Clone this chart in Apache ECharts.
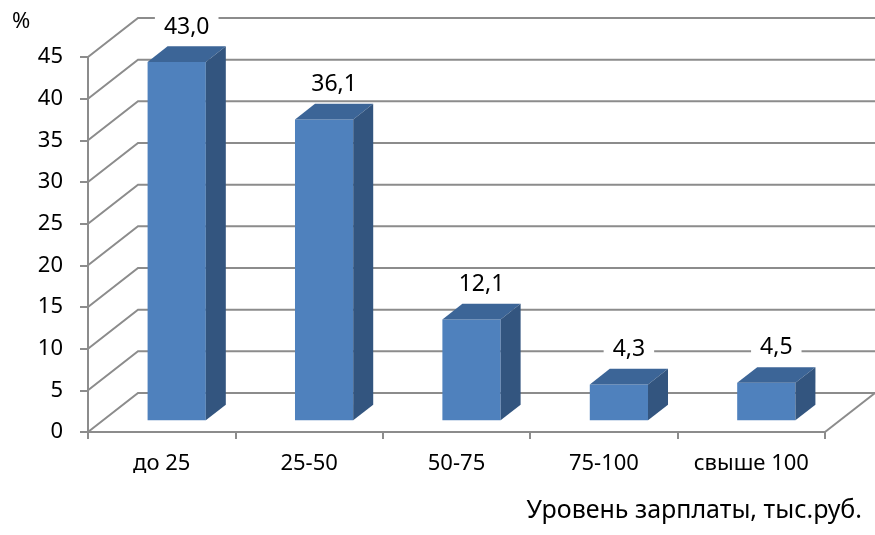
<!DOCTYPE html>
<html>
<head>
<meta charset="utf-8">
<script src="https://cdn.jsdelivr.net/npm/echarts@6/dist/echarts.min.js"></script>
<style>
  html, body { margin:0; padding:0; background:#fff; }
  #chart { width:875px; height:535px; }
</style>
</head>
<body>
<div id="chart"></div>
<script>
// data
var categories = ['до 25', '25-50', '50-75', '75-100', 'свыше 100'];
var shares = [43.0, 36.1, 12.1, 4.3, 4.5];
var yTicks = [0, 5, 10, 15, 20, 25, 30, 35, 40, 45];

var FONT = '"Noto Sans", sans-serif';
var DX = 50, DY = -39;       // depth of the 3d box (pixels)
var F0 = 0.3, F1 = 0.7;      // bar front / back depth fraction
var GRID_COLOR = '#8c8c8c';

var myChart = echarts.init(document.getElementById('chart'));

function fmt(v){ return v.toFixed(1).replace('.', ','); }

// walls: back gridlines + left side diagonals
function renderWall(params, api){
  var v = api.value(1);
  var cs = params.coordSys;
  var y = api.coord([0, v])[1];
  var L = cs.x, R = cs.x + cs.width;
  var kids = [{
    type: 'polyline',
    shape: {points: [[L, y], [L + DX, y + DY], [R + DX, y + DY]]},
    style: {stroke: GRID_COLOR, lineWidth: 2, fill: null}
  }];
  if(v == 0){
    kids.push({
      type: 'line',
      shape: {x1: R, y1: y, x2: R + DX, y2: y + DY},
      style: {stroke: GRID_COLOR, lineWidth: 2}
    });
  }
  return {type: 'group', children: kids};
}

function renderBar(params, api){
  var i = api.value(0), v = api.value(1);
  var base = api.coord([i, 0]);
  var top = api.coord([i, v]);
  var w = api.size([1, 0])[0] * 0.395;
  var x0 = base[0] + F0 * DX - w / 2, x1 = x0 + w;
  var yb = base[1] + F0 * DY, yt = top[1] + F0 * DY;
  var ddx = (F1 - F0) * DX, ddy = (F1 - F0) * DY;
  return {
    type: 'group',
    children: [
      {type: 'rect', shape: {x: x0, y: yt, width: w, height: yb - yt},
       style: {fill: '#4f81bd'}},
      {type: 'polygon', shape: {points: [[x0, yt], [x1, yt], [x1 + ddx, yt + ddy], [x0 + ddx, yt + ddy]]},
       style: {fill: '#3c6597'}},
      {type: 'polygon', shape: {points: [[x1, yt], [x1 + ddx, yt + ddy], [x1 + ddx, yb + ddy], [x1, yb]]},
       style: {fill: '#33557f'}},
      {type: 'text', z2: 10,
       style: {x: base[0] + 0.5 * DX, y: yt - 35, text: fmt(v), align: 'center', verticalAlign: 'middle',
               font: '23px ' + FONT, fill: '#000', backgroundColor: '#fff', padding: [0, 9]}}
    ]
  };
}

var option = {
  animation: false,
  grid: {left: 88, right: 50, top: 57, bottom: 103},
  xAxis: {
    type: 'category',
    data: categories,
    axisLine: {show: true, lineStyle: {color: GRID_COLOR, width: 2}},
    axisTick: {show: true, interval: 0, length: 7, lineStyle: {color: GRID_COLOR, width: 2}},
    axisLabel: {interval: 0, color: '#000', fontSize: 22, fontFamily: FONT, margin: 21},
    splitLine: {show: false}
  },
  yAxis: {
    type: 'value',
    min: 0, max: 45, interval: 5,
    axisLine: {show: true, lineStyle: {color: GRID_COLOR, width: 2}},
    axisTick: {show: true, length: 8, lineStyle: {color: GRID_COLOR, width: 2}},
    axisLabel: {color: '#000', fontSize: 22, fontFamily: FONT, margin: 25},
    splitLine: {show: false}
  },
  graphic: [
    {type: 'text', left: 12, top: 11, style: {text: '%', font: '22px ' + FONT, fill: '#000'}},
    {type: 'text', right: 13, top: 498, style: {text: 'Уровень зарплаты, тыс.руб.', font: '25px ' + FONT, fill: '#000'}}
  ],
  series: [
    {type: 'custom', z: 1, renderItem: renderWall, data: yTicks.map(function(t){ return [0, t]; })},
    {type: 'custom', z: 3, renderItem: renderBar, data: shares.map(function(s, i){ return [i, s]; })}
  ]
};
myChart.setOption(option);
</script>
</body>
</html>
